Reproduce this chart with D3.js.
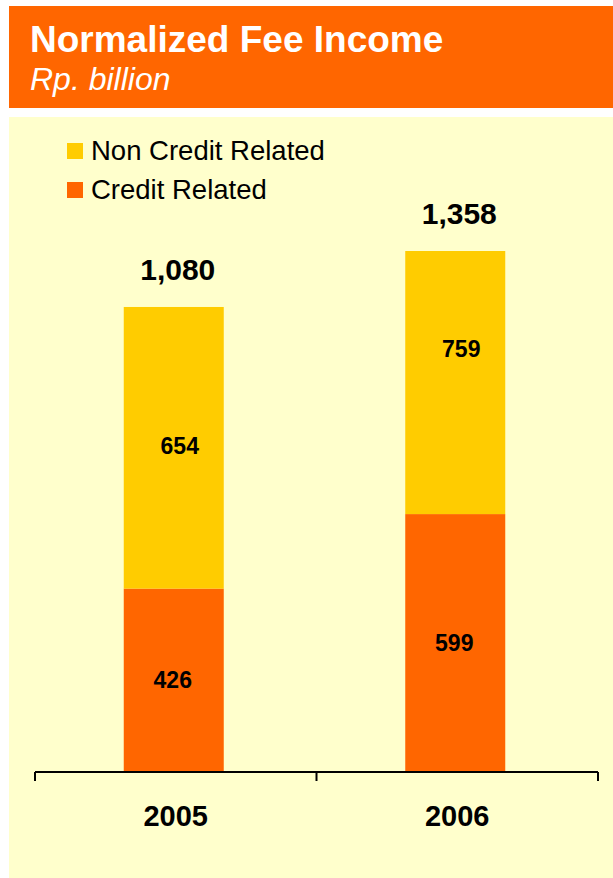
<!DOCTYPE html>
<html><head><meta charset="utf-8">
<script src="https://cdn.jsdelivr.net/npm/d3@7"></script>
<style>body{margin:0;background:#fff;}svg{display:block;font-family:"Liberation Sans",Arial,sans-serif;}</style>
</head><body>
<svg id="c" width="613" height="878"></svg>
<script>
const years = ["2005", "2006"];
const creditRelated = [426, 599];
const nonCreditRelated = [654, 759];
const seriesNames = ["Non Credit Related", "Credit Related"];
const title = "Normalized Fee Income";
const subtitle = "Rp. billion";
const yMax = 1210;

const colors = {credit: "#FF6600", nonCredit: "#FFCC00", bg: "#FFFFCC"};
const svg = d3.select("#c");

// header
svg.append("rect").attr("x", 9).attr("y", 6).attr("width", 604).attr("height", 102).attr("fill", colors.credit);
svg.append("text").attr("x", 30).attr("y", 52).attr("fill", "#fff").attr("font-weight", "bold").attr("font-size", 37).text(title);
svg.append("text").attr("x", 30).attr("y", 90).attr("fill", "#fff").attr("font-style", "italic").attr("font-size", 32).text(subtitle);

// panel
svg.append("rect").attr("x", 9).attr("y", 117).attr("width", 604).attr("height", 761).attr("fill", colors.bg);

const x = d3.scaleBand().domain(years).range([35, 598]).paddingInner(0).paddingOuter(0);
const y = d3.scaleLinear().domain([0, yMax]).range([772, 251]);
const barW = 100;

svg.append("defs").append("clipPath").attr("id", "plot")
  .append("rect").attr("x", 35).attr("y", y(yMax)).attr("width", 563).attr("height", y(0) - y(yMax));

const data = years.map((yr, i) => ({yr, credit: creditRelated[i], non: nonCreditRelated[i], total: creditRelated[i] + nonCreditRelated[i]}));
const g = svg.append("g").attr("clip-path", "url(#plot)");
const cx = d => x(d.yr) + x.bandwidth() / 2 - 2;

g.selectAll(".cr").data(data).join("rect")
  .attr("x", d => cx(d) - barW / 2).attr("width", barW)
  .attr("y", d => y(d.credit)).attr("height", d => y(0) - y(d.credit)).attr("fill", colors.credit);
g.selectAll(".nc").data(data).join("rect")
  .attr("x", d => cx(d) - barW / 2).attr("width", barW)
  .attr("y", d => y(d.total)).attr("height", d => y(d.credit) - y(d.total)).attr("fill", colors.nonCredit);

// segment labels
const fmt = d3.format(",");
svg.selectAll(".lc").data(data).join("text")
  .attr("x", d => cx(d) - 1).attr("y", d => (y(0) + y(d.credit)) / 2 + 8)
  .attr("text-anchor", "middle").attr("font-weight", "bold").attr("font-size", 23).text(d => fmt(d.credit));
svg.selectAll(".ln").data(data).join("text")
  .attr("x", d => cx(d) + 6).attr("y", d => (y(d.credit) + y(d.total)) / 2 + 6)
  .attr("text-anchor", "middle").attr("font-weight", "bold").attr("font-size", 23).text(d => fmt(d.non));
svg.selectAll(".lt").data(data).join("text")
  .attr("x", d => cx(d) + 4).attr("y", d => Math.max(y(d.total), y(yMax)) - 27)
  .attr("text-anchor", "middle").attr("font-weight", "bold").attr("font-size", 30).text(d => fmt(d.total));

// axis
const axis = svg.append("g").attr("stroke", "#000").attr("stroke-width", 2);
axis.append("line").attr("x1", 35).attr("x2", 598).attr("y1", y(0)).attr("y2", y(0));
[35, ...years.map(yr => x(yr) + x.bandwidth())].forEach(v =>
  axis.append("line").attr("x1", v).attr("x2", v).attr("y1", y(0)).attr("y2", y(0) + 9));
svg.selectAll(".yl").data(years).join("text")
  .attr("x", d => x(d) + x.bandwidth() / 2).attr("y", 826)
  .attr("text-anchor", "middle").attr("font-weight", "bold").attr("font-size", 29).text(d => d);

// legend
const leg = svg.append("g");
[colors.nonCredit, colors.credit].forEach((c, i) => {
  leg.append("rect").attr("x", 67).attr("y", 143 + i * 39).attr("width", 16).attr("height", 16).attr("fill", c);
  leg.append("text").attr("x", 91).attr("y", 160 + i * 39).attr("font-size", 27.5).attr("fill", "#000").text(seriesNames[i]);
});
</script>
</body></html>
